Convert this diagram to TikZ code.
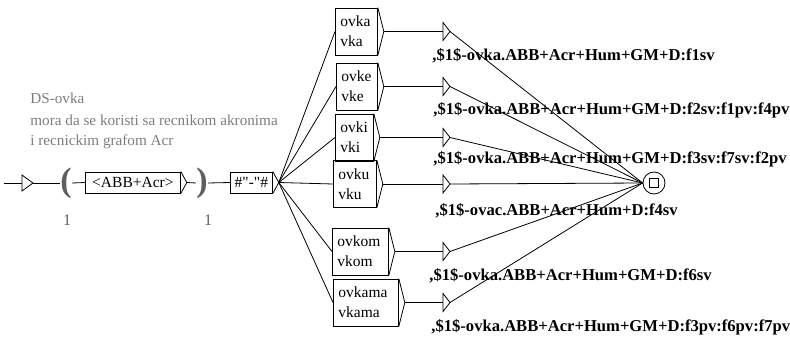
\documentclass[tikz,border=0pt]{standalone}
\usepackage{fontspec}
\setmainfont{Liberation Serif}
\usetikzlibrary{positioning}

\definecolor{cmtgray}{RGB}{125,125,125}
\definecolor{pargray}{RGB}{95,95,95}

\begin{document}
\begin{tikzpicture}[x=1pt, y=-1pt, line width=0.8pt,
    every node/.style={inner sep=0pt},
    gbox/.style={draw, rectangle, align=left, inner xsep=5pt, minimum height=47pt, anchor=west,
                 font=\fontsize{15.5}{20}\selectfont},
    sbox/.style={draw, rectangle, minimum height=21pt, anchor=west,
                 font=\fontsize{15.5}{20}\selectfont},
    outtxt/.style={anchor=base west, font=\fontsize{16.6}{20}\selectfont\bfseries},
    cmt/.style={anchor=base west, text=cmtgray, font=\fontsize{15.2}{20}\selectfont},
    paren/.style={text=pargray, font=\fontsize{34}{34}\selectfont\bfseries},
    cnt/.style={text=pargray, font=\fontsize{16}{18}\selectfont}]

\useasboundingbox (0,0) rectangle (790,337);

% Comment
\foreach \i/\y/\t in {1/103/DS-ovka, 2/125/mora da se koristi sa recnikom akronima, 3/145/i recnickim grafom Acr} {
    \node[cmt] (cmt\i) at (30,\y) {\t};
}

% Initial state
\coordinate (init) at (4,183);
\coordinate (initbar) at (22,183);
\coordinate (inittip) at (33,183);
\draw (initbar) ++(0,-8) -- ++(0,16) -- (inittip) -- cycle;
\draw (init) -- (initbar);

% Context: ( <ABB+Acr> )
\node[paren] (lpar) at (66,183) {(};
\node[cnt] (lcnt) at (67,220) {1};
\node[sbox, minimum width=95pt] (abb) at (85,182.5) {<ABB+Acr>};
\node[paren] (rpar) at (202,183) {)};
\node[cnt] (rcnt) at (208,220) {1};
\node[sbox, minimum width=42pt] (hash) at (230,182.5) {\#\textquotedbl-\textquotedbl\#};

\foreach \n in {abb, hash} {
    \draw (\n.north east) -- ([xshift=6pt]\n.east) -- (\n.south east);
    \coordinate (\n-out) at ([xshift=6pt]\n.east);
}

\draw (inittip) -- (lpar.west);
\draw (lpar.east) -- (abb.west);
\draw (abb-out) -- (rpar.west);
\draw (rpar.east) -- (hash.west);

% Final state
\node[circle, draw, minimum size=22pt] (final) at (654,183) {};
\node[rectangle, draw, minimum size=9pt] (finalsq) at (final) {};

% Suffix boxes with their outputs
\foreach \n/\x/\w/\y/\a/\b/\lx/\ly/\out in {
    ovka/335/42/31.5/ovka/vka/432/60/{,\$1\$-ovka.ABB+Acr+Hum+GM+D:f1sv},
    ovke/336/41/86.5/ovke/vke/433/114/{,\$1\$-ovka.ABB+Acr+Hum+GM+D:f2sv:f1pv:f4pv},
    ovki/335/38/137.5/ovki/vki/433/163/{,\$1\$-ovka.ABB+Acr+Hum+GM+D:f3sv:f7sv:f2pv},
    ovku/333/43/184/ovku/vku/435/215/{,\$1\$-ovac.ABB+Acr+Hum+D:f4sv},
    ovkom/332/56/251.5/ovkom/vkom/429/280/{,\$1\$-ovka.ABB+Acr+Hum+GM+D:f6sv},
    ovkama/333/65/302.5/ovkama/vkama/431/331/{,\$1\$-ovka.ABB+Acr+Hum+GM+D:f3pv:f6pv:f7pv}} {
    \node[gbox, text width=\w pt - 10pt] (\n) at (\x,\y) {\a\\\b};
    \draw (\n.north east) -- ([xshift=6pt]\n.east) -- (\n.south east);
    \coordinate (\n-out) at ([xshift=6pt]\n.east);
    % output triangle
    \coordinate (t\n) at (443,\y);
    \coordinate (t\n-tip) at (450,\y);
    \draw (t\n) ++(0,-9) -- ++(0,18) -- (t\n-tip) -- cycle;
    \node[outtxt] (lab\n) at (\lx,\ly) {\out};
    % connections
    \draw (hash-out) -- (\n.west);
    \draw (\n-out) -- (t\n);
    \draw (t\n-tip) -- (final.west);
}

\end{tikzpicture}
\end{document}
